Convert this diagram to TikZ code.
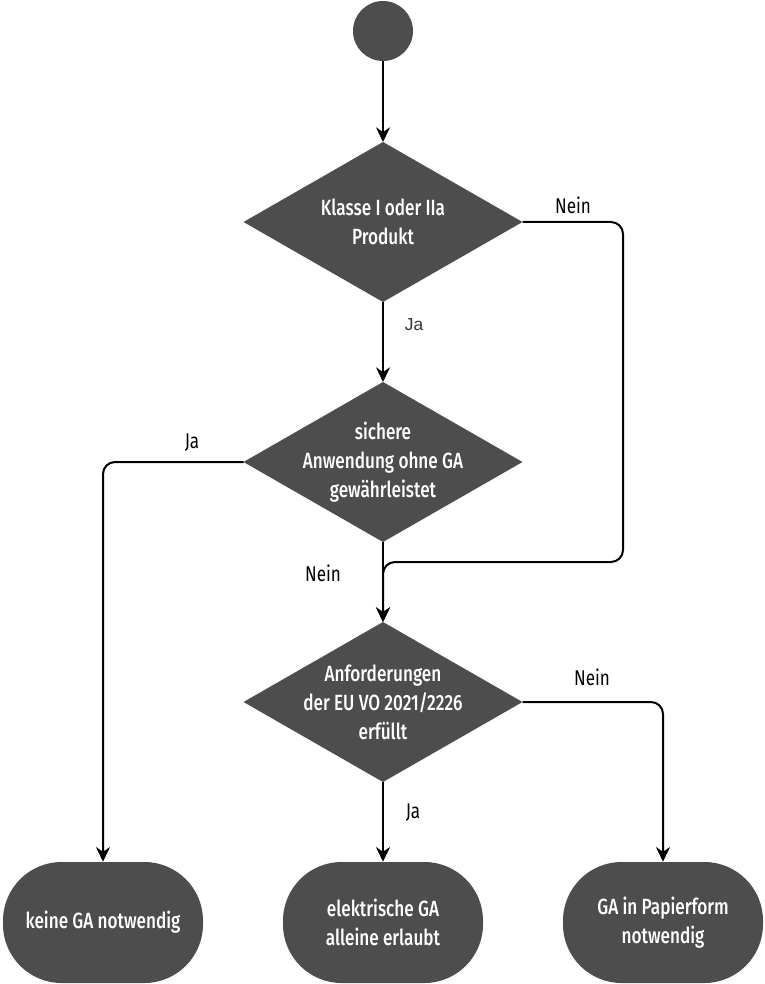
\documentclass[tikz,border=0pt]{standalone}
\usepackage{fontspec}
\setmainfont{Fira Sans}[FakeStretch=0.8]
\newfontfamily\nodefont{Fira Sans Medium}[FakeStretch=0.78]
\newfontfamily\arialfont{Liberation Sans}
\usetikzlibrary{arrows.meta}
\definecolor{boxgray}{HTML}{4D4D4D}
\definecolor{labgray}{HTML}{333333}
\tikzset{
  x=0.75pt, y=-0.75pt,
  startdot/.style={circle, fill=boxgray, minimum size=45pt, inner sep=0pt},
  dtext/.style={text=white, align=center, font=\nodefont\fontsize{16.5pt}{21.75pt}\selectfont, inner sep=0pt},
  term/.style={fill=boxgray, rounded corners=44pt, minimum width=150pt, minimum height=90.75pt, text=white, align=center, font=\nodefont\fontsize{16.5pt}{21.75pt}\selectfont, inner sep=0pt},
  conn/.style={line width=1.5pt, black, rounded corners=9pt, -{Stealth[length=11pt,width=10.5pt]}},
  lab/.style={font=\fontsize{16pt}{18pt}\selectfont, text=black, inner sep=0pt},
  alab/.style={font=\arialfont\fontsize{13pt}{16pt}\selectfont, text=labgray, inner sep=0pt},
}
\newcommand{\diamondnode}[3]{%
  \path[fill=boxgray] (#2) ++(-139.5,0) coordinate (#1 west) -- ++(139.5,-80) coordinate (#1 north) -- ++(139.5,80) coordinate (#1 east) -- ++(-139.5,80) coordinate (#1 south) -- cycle;
  \node[dtext] (#1) at (#2) {#3};
}
\begin{document}
\begin{tikzpicture}
\useasboundingbox (0,0) rectangle (764,984);
\node[startdot] (start) at (383,31) {};
\coordinate (c1) at (383,222);
\coordinate (c2) at (383,462);
\coordinate (c3) at (383,702);
\diamondnode{d1}{c1}{Klasse I oder IIa\\Produkt}
\diamondnode{d2}{c2}{sichere\\Anwendung ohne GA\\gewährleistet}
\diamondnode{d3}{c3}{Anforderungen\\der EU VO 2021/2226\\erfüllt}
\node[term] (t1) at (103,922.5) {keine GA notwendig};
\node[term] (t2) at (383,922.5) {elektrische GA\\alleine erlaubt};
\node[term] (t3) at (663,922.5) {GA in Papierform\\notwendig};
\coordinate (k1) at (623,222);
\coordinate (k2) at (623,562);
\coordinate (k3) at (383,562);
\coordinate (k4) at (103,462);
\coordinate (k5) at (663,702);
\draw[conn] (start.south) -- (d1 north);
\draw[conn] (d1 south) -- (d2 north);
\draw[conn] (d2 south) -- (d3 north);
\draw[conn] (d1 east) -- (k1) -- (k2) -- (k3) -- (d3 north);
\draw[conn] (d2 west) -- (k4) -- (t1.north);
\draw[conn] (d3 south) -- (t2.north);
\draw[conn] (d3 east) -- (k5) -- (t3.north);
\node[lab] (l1) at (573,205) {Nein};
\node[alab] (l2) at (414,325) {Ja};
\node[lab] (l3) at (192,443) {Ja};
\node[lab] (l4) at (323,573) {Nein};
\node[lab] (l5) at (592,677) {Nein};
\node[lab] (l6) at (413,813) {Ja};
\end{tikzpicture}
\end{document}
